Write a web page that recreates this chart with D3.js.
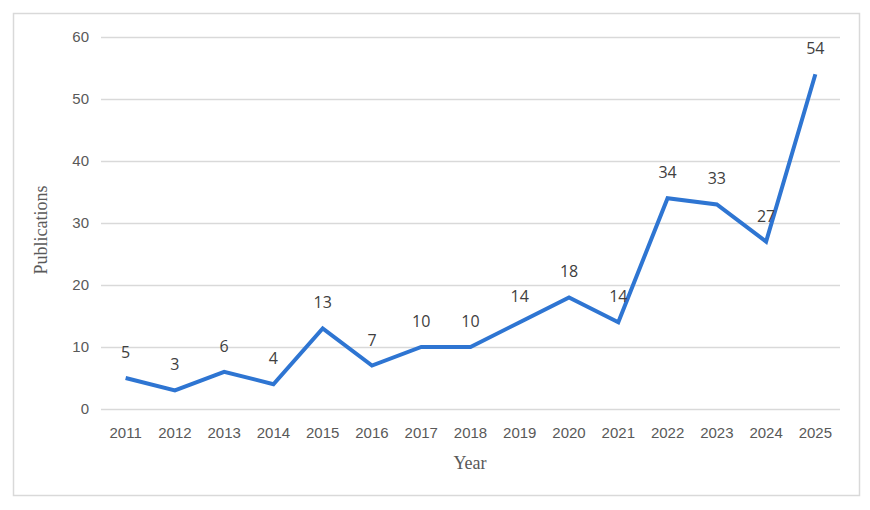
<!DOCTYPE html>
<html>
<head>
<meta charset="utf-8">
<script src="https://d3js.org/d3.v7.min.js"></script>
<style>
  body { margin: 0; background: #fff; }
</style>
</head>
<body>
<div id="chart"></div>
<script>
const years = ["2011", "2012", "2013", "2014", "2015", "2016", "2017", "2018",
  "2019", "2020", "2021", "2022", "2023", "2024", "2025"];
const publications = [5, 3, 6, 4, 13, 7, 10, 10, 14, 18, 14, 34, 33, 27, 54];
const yTicks = [0, 10, 20, 30, 40, 50, 60];

const width = 870, height = 510;
const plot = { left: 101, right: 840, top: 37, bottom: 409 };

const svg = d3.select("#chart").append("svg")
  .attr("width", width)
  .attr("height", height)
  .style("font-family", "'Open Sans', 'Liberation Sans', sans-serif");

// outer frame
svg.append("rect")
  .attr("x", 13.5).attr("y", 13.5)
  .attr("width", 846).attr("height", 482)
  .attr("fill", "#fff")
  .attr("stroke", "#d9d9d9")
  .attr("stroke-width", 1.5);

const x = d3.scaleBand()
  .domain(years)
  .range([plot.left, plot.right]);

const y = d3.scaleLinear()
  .domain([0, 60])
  .range([plot.bottom, plot.top]);

// gridlines + y labels
const yAxis = d3.axisLeft(y)
  .tickValues(yTicks)
  .tickSize(-(plot.right - plot.left))
  .tickPadding(12);

const gy = svg.append("g")
  .attr("transform", `translate(${plot.left},0)`)
  .call(yAxis);
gy.select(".domain").remove();
gy.selectAll(".tick line").attr("stroke", "#d9d9d9").attr("stroke-width", 1.3);
gy.selectAll(".tick text")
  .attr("fill", "#595959")
  .attr("font-size", "15px");

// x labels
const xAxis = d3.axisBottom(x).tickSize(0).tickPadding(18);
const gx = svg.append("g")
  .attr("transform", `translate(0,${plot.bottom})`)
  .call(xAxis);
gx.select(".domain").remove();
gx.selectAll(".tick text")
  .attr("fill", "#595959")
  .attr("font-size", "15px");

// line
const line = d3.line()
  .x((d, i) => x(years[i]) + x.bandwidth() / 2)
  .y(d => y(d));

svg.append("path")
  .datum(publications)
  .attr("d", line)
  .attr("fill", "none")
  .attr("stroke", "#2e75d2")
  .attr("stroke-width", 4)
  .attr("stroke-linejoin", "miter");

// data labels
svg.selectAll(".lbl")
  .data(publications)
  .join("text")
  .attr("class", "lbl")
  .attr("x", (d, i) => x(years[i]) + x.bandwidth() / 2)
  .attr("y", d => y(d) - 20)
  .attr("text-anchor", "middle")
  .attr("fill", "#404040")
  .attr("font-size", "16px")
  .text(d => d);

// axis titles
svg.append("text")
  .attr("x", 470)
  .attr("y", 469)
  .attr("text-anchor", "middle")
  .attr("fill", "#595959")
  .attr("font-size", "18px")
  .style("font-family", "'Liberation Serif', 'DejaVu Serif', serif")
  .text("Year");

svg.append("text")
  .attr("transform", "translate(47,230) rotate(-90)")
  .attr("text-anchor", "middle")
  .attr("fill", "#595959")
  .attr("font-size", "18px")
  .style("font-family", "'Liberation Serif', 'DejaVu Serif', serif")
  .text("Publications");
</script>
</body>
</html>
